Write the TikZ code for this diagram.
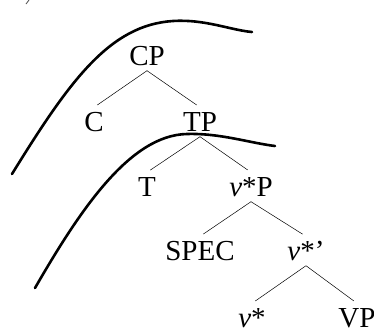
\documentclass[tikz,border=0pt]{standalone}
\usepackage{fontspec}
\setmainfont{Liberation Serif}
\usepackage{tikz}

\begin{document}
\begin{tikzpicture}[
  x=1pt, y=-1pt,
  lbl/.style={font=\fontsize{29}{34}\selectfont, text height=19pt, text depth=0pt, inner xsep=0pt, inner ysep=5pt},
  branch/.style={line width=0.5pt, shorten >=4pt},
  phase/.style={line width=2.6pt, line cap=round}
]
  \useasboundingbox (0,0) rectangle (374,327);
  \draw[line width=0.8pt, color=black!70] (26,4) -- (29,0);
  \node[lbl] (cp)   at (147,56)  {CP};
  \node[lbl] (c)    at (94,122)  {C};
  \node[lbl] (tp)   at (200,122) {TP};
  \node[lbl] (t)    at (147,187) {T};
  \node[lbl] (vsp)  at (251,187) {\textit{v}*P};
  \node[lbl] (spec) at (200,251) {SPEC};
  \node[lbl] (vbar) at (306,251) {\textit{v}*’};
  \node[lbl] (vst)  at (252,318) {\textit{v}*};
  \node[lbl] (vp)   at (357,318) {VP};
  \draw[branch] (cp.south) -- (c.north);
  \draw[branch] (cp.south) -- (tp.north);
  \draw[branch] (tp.south) -- (t.north);
  \draw[branch] (tp.south) -- (vsp.north);
  \draw[branch] (vsp.south) -- (spec.north);
  \draw[branch] (vsp.south) -- (vbar.north);
  \draw[branch] (vbar.south) -- (vst.north);
  \draw[branch] (vbar.south) -- (vp.north);
  \draw[phase] (12,174) .. controls (70,80) and (110,25) .. (173,21)
    .. controls (205,19) and (230,30) .. (252,32);
  \draw[phase] (35,288) .. controls (80,210) and (130,135) .. (187,134)
    .. controls (220,133) and (250,143) .. (275,146);
\end{tikzpicture}
\end{document}
